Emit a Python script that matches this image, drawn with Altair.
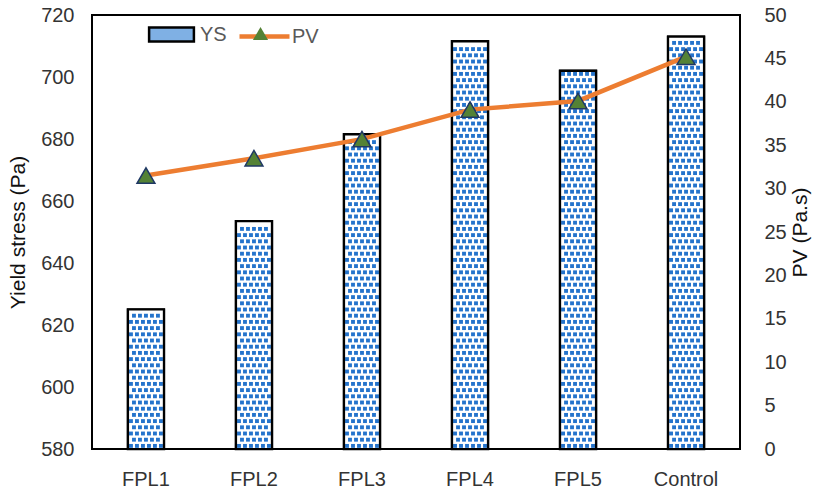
import altair as alt
import pandas as pd

# Mix labels, yield stress (left axis) and plastic viscosity (right axis)
categories = ["FPL1", "FPL2", "FPL3", "FPL4", "FPL5", "Control"]
yield_stress = [625, 653.5, 681.5, 711.5, 702, 713]
plastic_viscosity = [31.5, 33.5, 35.7, 39.1, 40.1, 45.2]

ys_ticks = list(range(580, 721, 20))
pv_ticks = list(range(0, 51, 5))

FONT = "Liberation Sans, Arial, sans-serif"
DOT_BLUE = "#2574CC"
ORANGE = "#ED7D31"

df = pd.DataFrame({
    "mix": categories,
    "ys": yield_stress,
    "pv": plastic_viscosity,
    "ys_key": "YS",
    "pv_key": "PV",
    "pv_marker": "PV ",
})

# Dotted fill inside each bar: staggered rows of small squares up to the bar top
dot_rows = []
for mix, top in zip(categories, yield_stress):
    level, row = 581.0, 0
    while level <= top - 1.0:
        dot_rows.append({"mix": mix, "level": level, "parity": row % 2})
        level += 2.0
        row += 1
dots_df = pd.DataFrame(dot_rows)

x_scale = alt.Scale(paddingInner=0.667, paddingOuter=0.333)
x_axis = alt.Axis(title=None, labelAngle=0, ticks=False, domain=False,
                  labelPadding=20, labelFontSize=20, labelFont=FONT,
                  labelColor="#333333")
x_enc = alt.X("mix:N", sort=categories, scale=x_scale, axis=x_axis)

ys_scale = alt.Scale(domain=[580, 720], nice=False, zero=False)
left_axis = alt.Axis(values=ys_ticks, title="Yield stress (Pa)", ticks=False,
                     domain=False, grid=False, labelPadding=18, labelFontSize=20,
                     labelFont=FONT, labelColor="#333333", titleFontSize=21,
                     titleFont=FONT, titleFontWeight="normal", titleColor="#111111",
                     titlePadding=12)

# Keyed bar layer: carries the YS legend entry, fully covered by the white base
bars_key = alt.Chart(df).mark_bar(stroke="black", strokeWidth=2.5).encode(
    x=x_enc,
    y=alt.Y("ys:Q", scale=ys_scale, axis=left_axis),
    y2=alt.datum(580),
    fill=alt.Fill(
        "ys_key:N",
        scale=alt.Scale(domain=["YS"], range=["#7FB0E4"]),
        legend=alt.Legend(
            title=None, orient="none", legendX=64, legendY=4, padding=0,
            symbolType="M-1.6,-0.5H1.6V0.5H-1.6Z", symbolSize=784,
            symbolStrokeWidth=2.5, symbolStrokeColor="black", symbolOpacity=1,
            labelOffset=13, labelFontSize=20, labelFont=FONT, labelColor="#595959",
        ),
    ),
)

bars_bg = alt.Chart(df).mark_bar(fill="white").encode(
    x=x_enc,
    y=alt.Y("ys:Q", scale=ys_scale, axis=left_axis),
    y2=alt.datum(580),
)

# One dot column per layer at a fixed fraction across the band; rows alternate columns
dot_columns = [(0, k / 12) for k in (1, 3, 5, 7, 9, 11)] + [(1, k / 12) for k in (2, 4, 6, 8, 10)]
dot_layers = [
    alt.Chart(dots_df)
    .transform_filter(alt.datum.parity == parity)
    .mark_square(size=15, color=DOT_BLUE, opacity=1)
    .encode(
        x=alt.X("mix:N", sort=categories, scale=x_scale, axis=x_axis, bandPosition=pos),
        y=alt.Y("level:Q", scale=ys_scale, axis=left_axis),
    )
    for parity, pos in dot_columns
]

bars_outline = alt.Chart(df).mark_bar(fill="transparent", stroke="black", strokeWidth=2.2).encode(
    x=x_enc,
    y=alt.Y("ys:Q", scale=ys_scale, axis=left_axis),
    y2=alt.datum(580),
)

pv_scale = alt.Scale(domain=[0, 50], nice=False, zero=True)
right_axis = alt.Axis(values=pv_ticks, orient="right", title="PV (Pa.s)", ticks=False,
                      domain=False, grid=False, labelPadding=24, labelFontSize=20,
                      labelFont=FONT, labelColor="#333333", titleFontSize=21,
                      titleFont=FONT, titleFontWeight="normal", titleColor="#111111",
                      titleAngle=270, titlePadding=24)

pv_line = alt.Chart(df).mark_line(strokeWidth=4.5).encode(
    x=x_enc,
    y=alt.Y("pv:Q", scale=pv_scale, axis=right_axis),
    stroke=alt.Stroke(
        "pv_key:N",
        scale=alt.Scale(domain=["PV"], range=[ORANGE]),
        legend=alt.Legend(
            title=None, orient="none", legendX=145, legendY=-6, padding=0,
            symbolType="stroke", symbolSize=2500, symbolStrokeWidth=4.5,
            labelOffset=0, labelFontSize=20, labelFont=FONT, labelColor="#595959",
        ),
    ),
)

pv_points = alt.Chart(df).mark_point(
    shape="triangle-up", size=320, filled=True, fill="#548235",
    stroke="#1F3864", strokeWidth=1.5, opacity=1,
).encode(
    x=x_enc,
    y=alt.Y("pv:Q", scale=pv_scale, axis=right_axis),
    shape=alt.Shape(
        "pv_marker:N",
        scale=alt.Scale(domain=["PV "], range=["triangle-up"]),
        legend=alt.Legend(
            title=None, orient="none", legendX=160, legendY=10, padding=0,
            symbolSize=230, symbolFillColor="#548235", symbolStrokeColor="#1F3864",
            symbolStrokeWidth=1.5, symbolOpacity=1, labelOpacity=0, labelFontSize=1,
        ),
    ),
)

chart = alt.layer(
    alt.layer(bars_key, bars_bg, *dot_layers, bars_outline),
    alt.layer(pv_line, pv_points),
).resolve_scale(
    y="independent", fill="independent", stroke="independent", shape="independent"
).properties(
    width=648,
    height=434,
    autosize=alt.AutoSizeParams(type="none"),
    padding={"left": 92, "top": 15, "right": 77, "bottom": 44},
    background="white",
).configure_view(
    stroke="black", strokeWidth=2,
)

chart.save("out.html", embed_options={"renderer": "svg", "actions": False})
